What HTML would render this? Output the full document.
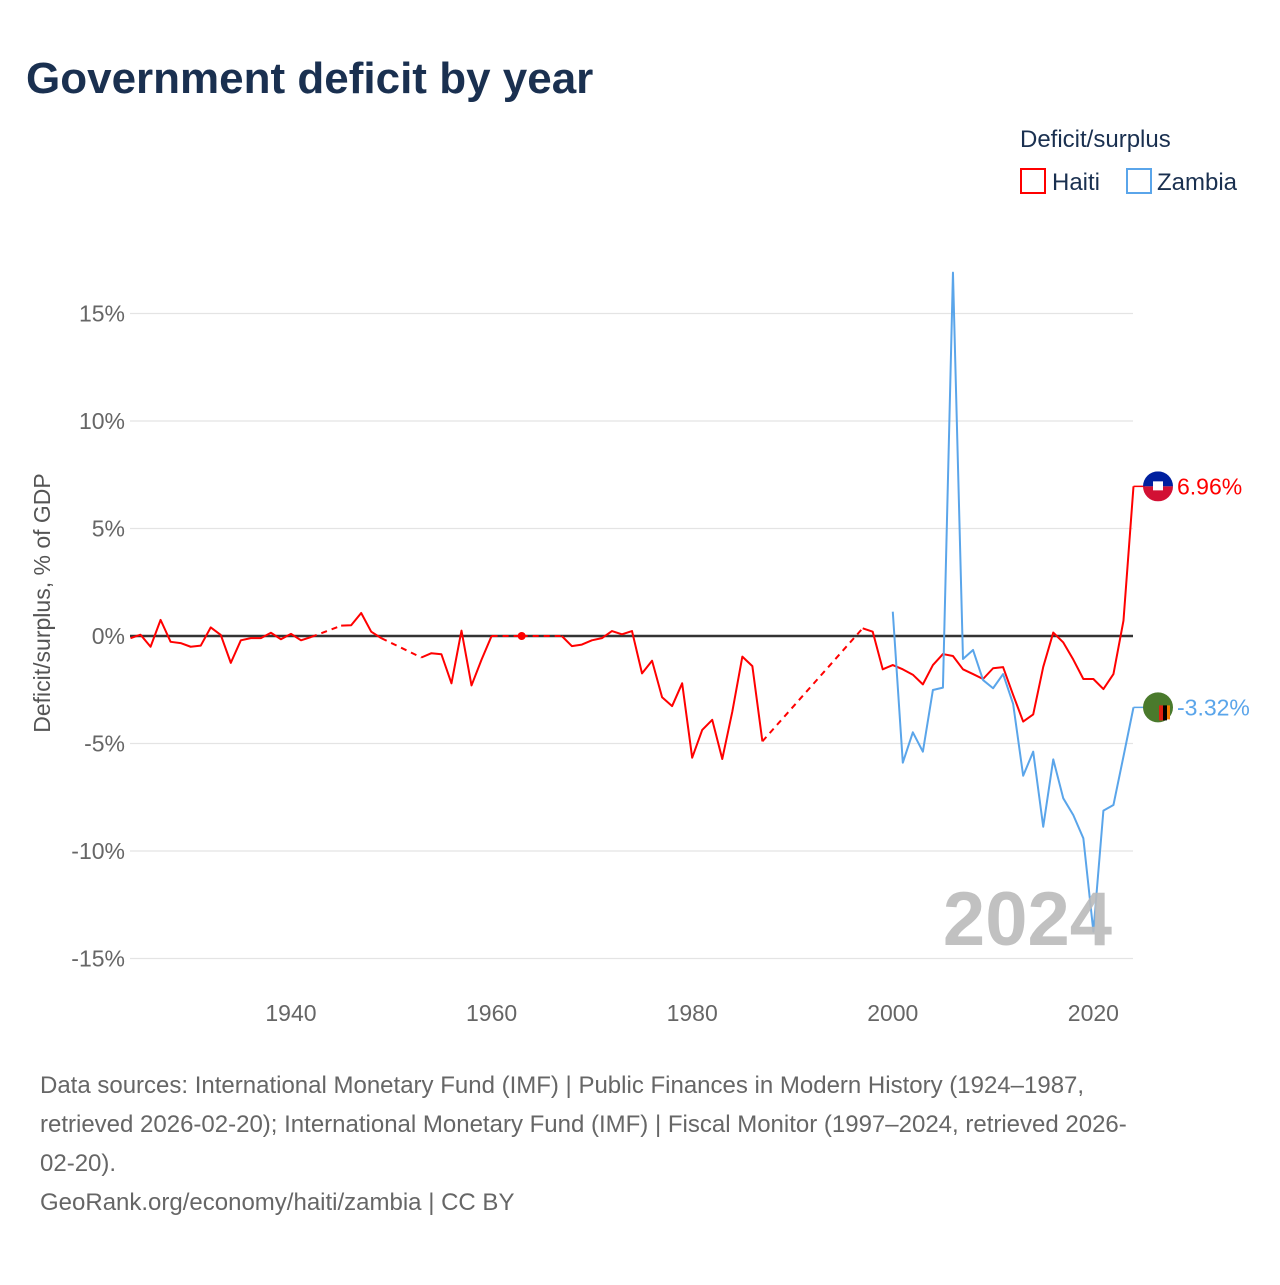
<!DOCTYPE html>
<html><head><meta charset="utf-8"><style>
body{margin:0;background:#fff;font-family:"Liberation Sans",sans-serif}
svg text{font-family:"Liberation Sans",sans-serif}
</style></head><body>
<svg id="c" width="1280" height="1280" xmlns="http://www.w3.org/2000/svg">
<text x="26" y="93" font-size="44" font-weight="bold" fill="#1a3050">Government deficit by year</text>
<text x="1020" y="147" font-size="24" fill="#1a3050">Deficit/surplus</text>
<g><rect x="1021" y="169" width="24" height="24" fill="none" stroke="#f00" stroke-width="2"/><text x="1052" y="190" font-size="24" fill="#1a3050">Haiti</text></g>
<g><rect x="1127" y="169" width="24" height="24" fill="none" stroke="#5aa5ea" stroke-width="2"/><text x="1157" y="190" font-size="24" fill="#1a3050">Zambia</text></g>
<text transform="translate(50,603) rotate(-90)" text-anchor="middle" font-size="23" fill="#555">Deficit/surplus, % of GDP</text>
<g id="grid"></g><g id="series"></g>
<text x="1112" y="945" text-anchor="end" font-size="76" font-weight="bold" fill="#bbb" opacity="0.9">2024</text>
<g font-size="24" fill="#666">
<text x="40" y="1093">Data sources: International Monetary Fund (IMF) | Public Finances in Modern History (1924–1987,</text>
<text x="40" y="1132">retrieved 2026-02-20); International Monetary Fund (IMF) | Fiscal Monitor (1997–2024, retrieved 2026-</text>
<text x="40" y="1171">02-20).</text>
<text x="40" y="1210">GeoRank.org/economy/haiti/zambia | CC BY</text>
</g>
</svg>
<script>
const yTicks=[15,10,5,0,-5,-10,-15];
const xTicks=[1940,1960,1980,2000,2020];
const haitiYears=[1924,1925,1926,1927,1928,1929,1930,1931,1932,1933,1934,1935,1936,1937,1938,1939,1940,1941,1942,1945,1946,1947,1948,1949,1953,1954,1955,1956,1957,1958,1959,1960,1963,1967,1968,1969,1970,1971,1972,1973,1974,1975,1976,1977,1978,1979,1980,1981,1982,1983,1984,1985,1986,1987,1997,1998,1999,2000,2001,2002,2003,2004,2005,2006,2007,2008,2009,2010,2011,2012,2013,2014,2015,2016,2017,2018,2019,2020,2021,2022,2023,2024];
const haitiValues=[-0.1,0.06,-0.5,0.75,-0.27,-0.33,-0.5,-0.45,0.4,0.05,-1.25,-0.2,-0.1,-0.1,0.15,-0.15,0.1,-0.2,-0.05,0.48,0.5,1.07,0.2,-0.1,-1.0,-0.8,-0.85,-2.2,0.25,-2.3,-1.1,0,0,0,-0.47,-0.4,-0.2,-0.1,0.23,0.08,0.23,-1.74,-1.15,-2.85,-3.26,-2.2,-5.66,-4.37,-3.9,-5.72,-3.52,-0.96,-1.4,-4.9,0.36,0.2,-1.55,-1.35,-1.55,-1.8,-2.25,-1.35,-0.84,-0.93,-1.55,-1.77,-2.0,-1.5,-1.45,-2.74,-3.98,-3.65,-1.44,0.16,-0.3,-1.1,-2.0,-2.0,-2.47,-1.77,0.71,6.96];
const zambiaYears=[2000,2001,2002,2003,2004,2005,2006,2007,2008,2009,2010,2011,2012,2013,2014,2015,2016,2017,2018,2019,2020,2021,2022,2023,2024];
const zambiaValues=[1.13,-5.89,-4.48,-5.38,-2.51,-2.4,16.9,-1.07,-0.65,-2.05,-2.43,-1.77,-3.16,-6.5,-5.38,-8.87,-5.74,-7.55,-8.33,-9.41,-13.75,-8.12,-7.86,-5.6,-3.32];
const NS='http://www.w3.org/2000/svg';
const x=yr=>130.5+(yr-1924)*10.03;
const y=v=>636-v*21.5;
const grid=document.getElementById('grid'),ser=document.getElementById('series');
function mk(tag,at,parent){const e=document.createElementNS(NS,tag);for(const k in at)e.setAttribute(k,at[k]);parent.appendChild(e);return e;}
yTicks.forEach(t=>{
 const l=mk('line',{x1:130,x2:1133,y1:y(t),y2:y(t),stroke:t===0?'#333':'#e4e4e4','stroke-width':t===0?2.5:1.2},grid);
 
 
 const tx=mk('text',{x:125,y:y(t)+8,'text-anchor':'end','font-size':23,fill:'#666'},grid);
 tx.textContent=t+'%';
 
 
});
xTicks.forEach(t=>{
 const tx=mk('text',{x:x(t),y:1021,'text-anchor':'middle','font-size':23,fill:'#666'},grid);
 tx.textContent=t;
 
 
});
function draw(years,vals,color,name){
 const g=mk('g',{},ser);
 
 
 let d='';
 for(let i=0;i<years.length;i++){
  if(i>0&&years[i]-years[i-1]>1){
   const dl=mk('line',{x1:x(years[i-1]),y1:y(vals[i-1]),x2:x(years[i]),y2:y(vals[i]),stroke:color,'stroke-width':2,'stroke-dasharray':'6,5'},g);
   
   
   d+='M'+x(years[i])+','+y(vals[i]);
  } else d+=(i?'L':'M')+x(years[i])+','+y(vals[i]);
  const iso=(i===0||years[i]-years[i-1]>1)&&(i===years.length-1||years[i+1]-years[i]>1);
  if(iso){const c=mk('circle',{cx:x(years[i]),cy:y(vals[i]),r:4,fill:color},g);
   
   }
 }
 mk('path',{d:d,fill:'none',stroke:color,'stroke-width':2,'stroke-linejoin':'round'},g);
 const last=vals[vals.length-1],ly=y(last),lx=x(years[years.length-1]);
 mk('line',{x1:lx,y1:ly,x2:1145,y2:ly,stroke:color,'stroke-width':1.5},g);
 const lab=mk('text',{x:1177,y:ly+8,'font-size':23,fill:color},g);
 lab.textContent=last.toFixed(2)+'%';
 
 
 return ly;
}
const hy=draw(haitiYears,haitiValues,'#ff0000','haiti');
const zy=draw(zambiaYears,zambiaValues,'#5aa5ea','zambia');
const f1=mk('g',{},ser);


const cp=mk('clipPath',{id:'cp1'},f1);
mk('circle',{cx:1158,cy:hy,r:15},cp);
mk('rect',{x:1143,y:hy-15,width:30,height:15,fill:'#00209f','clip-path':'url(#cp1)'},f1);
mk('rect',{x:1143,y:hy,width:30,height:15,fill:'#d21034','clip-path':'url(#cp1)'},f1);
mk('rect',{x:1153,y:hy-5,width:10,height:9,fill:'#fff'},f1);
const f2=mk('g',{},ser);


mk('circle',{cx:1158,cy:zy,r:15,fill:'#4a7a2c'},f2);
mk('rect',{x:1159,y:zy-2,width:4,height:15,fill:'#de2010'},f2);
mk('rect',{x:1163,y:zy-2,width:4,height:15,fill:'#000'},f2);
mk('rect',{x:1167,y:zy-2,width:3,height:14,fill:'#ef7d00'},f2);
</script>
</body></html>
